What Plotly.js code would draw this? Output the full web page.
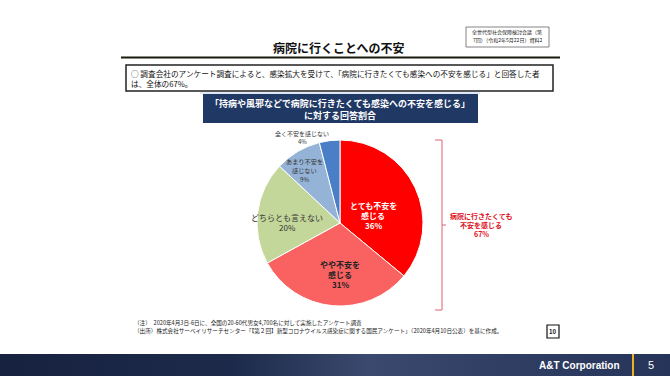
<!DOCTYPE html>
<html>
<head>
<meta charset="utf-8">
<script src="https://cdn.plot.ly/plotly-3.0.1.min.js"></script>
<style>
html,body{margin:0;padding:0;background:#fff;width:670px;height:376px;overflow:hidden;}
#band{position:absolute;left:0;top:354px;width:670px;height:22px;
 background:linear-gradient(90deg,#17223f 0%,#1d2a4b 35%,#3a4a6e 55%,#2f3e62 75%,#26345a 100%);}
#chart{position:absolute;left:0;top:0;width:670px;height:376px;}
</style>
</head>
<body>
<div id="band"></div>
<div id="chart"></div>
<script>
// ---- data ----
const categories = ['とても不安を感じる','やや不安を感じる','どちらとも言えない','あまり不安を感じない','全く不安を感じない'];
const categoryLines = [['とても不安を','感じる'],['やや不安を','感じる'],['どちらとも言えない'],['あまり不安を','感じない'],['全く不安を感じない']];
const values = [36, 31, 20, 9, 4];
const sliceColors = ['#ff0000','#fa6262','#c4d79b','#95b3d7','#4a7ec6'];
const groupLabelLines = ['病院に行きたくても','不安を感じる'];
const groupValue = 67;

const W = 670, H = 376;
const px = x => x / W;
const py = y => 1 - y / H;
const font = '"Noto Sans CJK JP","Noto Sans",sans-serif';

// pie geometry
const cx = 340, cy = 223, r = 83;

const trace = {
  type: 'pie',
  labels: categories,
  values: values,
  sort: false,
  direction: 'clockwise',
  rotation: 0,
  marker: {colors: sliceColors, line: {color: '#ffffff', width: 1}},
  textinfo: 'none',
  hoverinfo: 'none',
  showlegend: false,
  domain: {x: [px(cx - r), px(cx + r)], y: [py(cy + r), py(cy - r)]}
};

// label placement for each slice (pixel positions of first line) and styles
const labelPos = [[373, 205], [340, 264], [287, 217], [304, 161], [302, 133]];
const labelStep = [10, 10, 10, 9, 8];
const labelColor = ['#ffffff', '#222222', '#333333', '#333333', '#333333'];
const labelBold = [true, true, false, false, false];
const labelSize = [8, 8, 8, 6.2, 6];

const ann = [];
function A(x, y, text, opts) {
  ann.push(Object.assign({xref: 'paper', yref: 'paper', x: px(x), y: py(y), text: text,
    showarrow: false, xanchor: 'center', yanchor: 'middle', borderpad: 0,
    font: {family: font, size: 8, color: '#222'}}, opts || {}));
}
function ML(x, y0, lines, step, bold, opts) {
  lines.forEach((t, k) => A(x, y0 + k * step, bold ? '<b>' + t + '</b>' : t, opts));
}

for (let i = 0; i < values.length; i++) {
  const lines = categoryLines[i].concat([values[i] + '%']);
  ML(labelPos[i][0], labelPos[i][1], lines, labelStep[i], labelBold[i],
     {font: {family: font, size: labelSize[i], color: labelColor[i]}});
}

// titles & texts
A(339, 48, '<b>病院に行くことへの不安</b>', {font: {family: font, size: 12, color: '#111'}});
ML(507, 32, ['全世代型社会保障検討会議（第', '7回）（令和2年5月22日）資料2'], 8, false, {font: {family: font, size: 5, color: '#222'}});
ML(130, 73, ['○ 調査会社のアンケート調査によると、感染拡大を受けて、「病院に行きたくても感染への不安を感じる」と回答した者', 'は、全体の67%。'], 11, false,
  {xanchor: 'left', align: 'left', font: {family: font, size: 7.65, color: '#111'}});
ML(340, 103, ['「持病や風邪などで病院に行きたくても感染への不安を感じる」', 'に対する回答割合'], 12, true,
  {font: {family: font, size: 9, color: '#ffffff'}});
ML(481, 216, groupLabelLines.concat([groupValue + '%']), 9, true, {font: {family: font, size: 7, color: '#e0101e'}});
ML(133, 322.5, ['（注）　2020年4月3日-6日に、全国の20-60代男女4,700名に対して実施したアンケート調査',
  '（出所）株式会社サーベイリサーチセンター「【第２回】新型コロナウイルス感染症に関する国民アンケート」（2020年4月10日公表）を基に作成。'], 8, false,
  {xanchor: 'left', align: 'left', font: {family: font, size: 5.6, color: '#222'}});
A(553, 331.5, '<b>10</b>', {font: {family: font, size: 6, color: '#111'}});
A(579, 365, '<b>A&amp;T Corporation</b>', {font: {family: '"Liberation Sans",Arial,sans-serif', size: 10, color: '#ffffff'}});
A(651, 365, '5', {font: {family: '"Liberation Sans",Arial,sans-serif', size: 11, color: '#ffffff'}});

const shapes = [];
function R(x0, y0, x1, y1, o) { shapes.push(Object.assign({type: 'rect', xref: 'paper', yref: 'paper', x0: px(x0), x1: px(x1), y0: py(y1), y1: py(y0)}, o)); }
function L(x0, y0, x1, y1, color, w) { shapes.push({type: 'line', xref: 'paper', yref: 'paper', x0: px(x0), x1: px(x1), y0: py(y0), y1: py(y1), line: {color: color, width: w}}); }

R(466, 27, 549, 47, {line: {color: '#666', width: 0.8}, fillcolor: 'rgba(0,0,0,0)'});
L(121, 57.5, 560, 57.5, '#1a1a10', 2.2);
R(126, 65, 553, 91, {line: {color: '#222', width: 1.5}, fillcolor: 'rgba(0,0,0,0)'});
L(200, 93, 480, 93, '#bcd3ea', 1);
R(203, 94, 478, 123, {line: {width: 0}, fillcolor: '#203864'});
// bracket
const bc = '#e06070';
L(442, 140, 442, 310, bc, 1);
L(435, 140, 442, 140, bc, 1);
L(435, 310, 442, 310, bc, 1);
L(442, 225, 446, 225, bc, 1);
R(547, 325, 559, 338, {line: {color: '#111', width: 1.2}, fillcolor: 'rgba(0,0,0,0)'});
L(633, 354, 633, 376, '#f0b020', 2);

const layout = {
  width: W, height: H,
  margin: {l: 0, r: 0, t: 0, b: 0},
  paper_bgcolor: 'rgba(0,0,0,0)',
  plot_bgcolor: 'rgba(0,0,0,0)',
  showlegend: false,
  annotations: ann,
  shapes: shapes
};

Plotly.newPlot('chart', [trace], layout, {staticPlot: true, displayModeBar: false});
</script>
</body>
</html>
